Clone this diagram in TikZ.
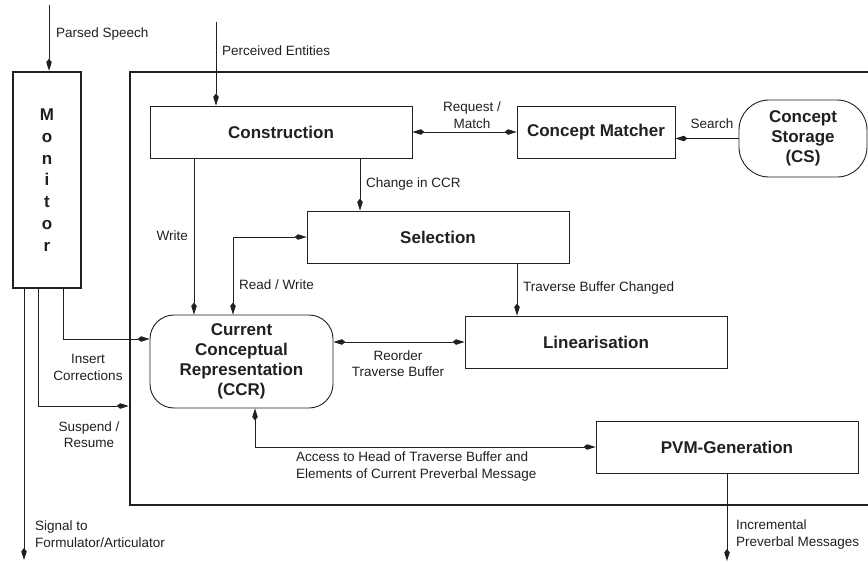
\documentclass[tikz,border=0pt]{standalone}
\usepackage{fontspec}
\setmainfont{Liberation Sans}
\usetikzlibrary{arrows.meta}
\definecolor{ink}{HTML}{231F20}
\begin{document}
\begin{tikzpicture}[x=1pt,y=-1pt,
  >={Kite[length=12pt,width=5.5pt,inset=3.5pt]},
  box/.style={draw=ink, line width=0.9pt, rectangle, inner sep=0pt, align=center,
    text=ink, font=\fontsize{17}{20}\selectfont\bfseries},
  heavy/.style={draw=ink, line width=2.6pt, rectangle, inner sep=0pt, align=center,
    text=ink, font=\fontsize{17}{21.8}\selectfont\bfseries},
  wire/.style={draw=ink, line width=0.9pt},
  lab/.style={font=\fontsize{13.5}{16.5}\selectfont, inner sep=0pt, text=ink}]
\useasboundingbox (0,0) rectangle (868,562);
\clip (0,0) rectangle (868,562);
% frames
\node[heavy, minimum width=750, minimum height=433] (big) at (505,288.5) {};
\node[heavy, minimum width=68, minimum height=216] (mon) at (47,180) {M\\o\\n\\i\\t\\o\\r};
% boxes
\node[box, minimum width=262, minimum height=52] (cons) at (281,132) {Construction};
\node[box, minimum width=158, minimum height=52] (match) at (596,132) {Concept Matcher};
\node[box, rounded corners=30pt, minimum width=128, minimum height=77] (stor) at (803,138.5) {Concept\\Storage\\(CS)};
\node[box, minimum width=262, minimum height=52] (sel) at (438,237) {Selection};
\node[box, rounded corners=24pt, minimum width=183, minimum height=93] (ccr) at (241.5,361.5) {Current\\Conceptual\\Representation\\(CCR)};
\node[box, minimum width=262, minimum height=52] (lin) at (596,342) {Linearisation};
\node[box, minimum width=262, minimum height=52] (pvm) at (727,447) {PVM-Generation};
% free ends and routing columns
\coordinate (psin) at (49,5);
\coordinate (pein) at (216,22);
\coordinate (xc) at (360,0);
\coordinate (xw) at (194,0);
\coordinate (xr) at (233,0);
\coordinate (xt) at (517,0);
\coordinate (xa) at (255,0);
\coordinate (incout) at (727,561);
\coordinate (sigout) at (24,560);
\coordinate (xs) at (38,406);
\coordinate (xi) at (63,339);
% connectors
\draw[wire,->] (psin) -- (psin |- mon.north);
\draw[wire,->] (pein) -- (pein |- cons.north);
\draw[wire,<->] (cons.east) -- (match.west);
\draw[wire,->] (stor.west) -- (stor.west -| match.east);
\draw[wire,->] (xc |- cons.south) -- (xc |- sel.north);
\draw[wire,->] (xw |- cons.south) -- (xw |- ccr.north);
\draw[wire,<->] (sel.west) -| (xr |- ccr.north);
\draw[wire,->] (xt |- sel.south) -- (xt |- lin.north);
\draw[wire,<->] (ccr.east |- lin.west) -- (lin.west);
\draw[wire,<->] (xa |- ccr.south) |- (pvm.west);
\draw[wire,->] (pvm.south) -- (incout);
\draw[wire,->] (sigout |- mon.south) -- (sigout);
\draw[wire,->] (xs |- mon.south) |- (big.west |- xs);
\draw[wire,->] (xi |- mon.south) |- (ccr.west |- xi);
% labels
\node[lab, anchor=west] (lps) at (56,34) {Parsed Speech};
\node[lab, anchor=west] (lpe) at (222,51) {Perceived Entities};
\node[lab, align=center] (lrm) at (472,115) {Request /\\Match};
\node[lab] (lse) at (712,124) {Search};
\node[lab, anchor=west] (lch) at (366,184) {Change in CCR};
\node[lab, anchor=east] (lwr) at (188,236) {Write};
\node[lab, anchor=west] (lrw) at (239,285) {Read / Write};
\node[lab, anchor=west] (ltb) at (523,288) {Traverse Buffer Changed};
\node[lab, align=center] (lro) at (398,363.5) {Reorder\\Traverse Buffer};
\node[lab, align=center] (lic) at (88,367.5) {Insert\\Corrections};
\node[lab, align=center] (lsr) at (89,434.5) {Suspend /\\Resume};
\node[lab, anchor=west, align=left] (lsig) at (35,534) {Signal to\\Formulator/Articulator};
\node[lab, anchor=west, align=left] (linc) at (736,534.5) {Incremental\\Preverbal Messages};
\node[lab, anchor=west, align=left] (lacc) at (296,466.5) {Access to Head of Traverse Buffer and\\Elements of Current Preverbal Message};
\end{tikzpicture}
\end{document}
